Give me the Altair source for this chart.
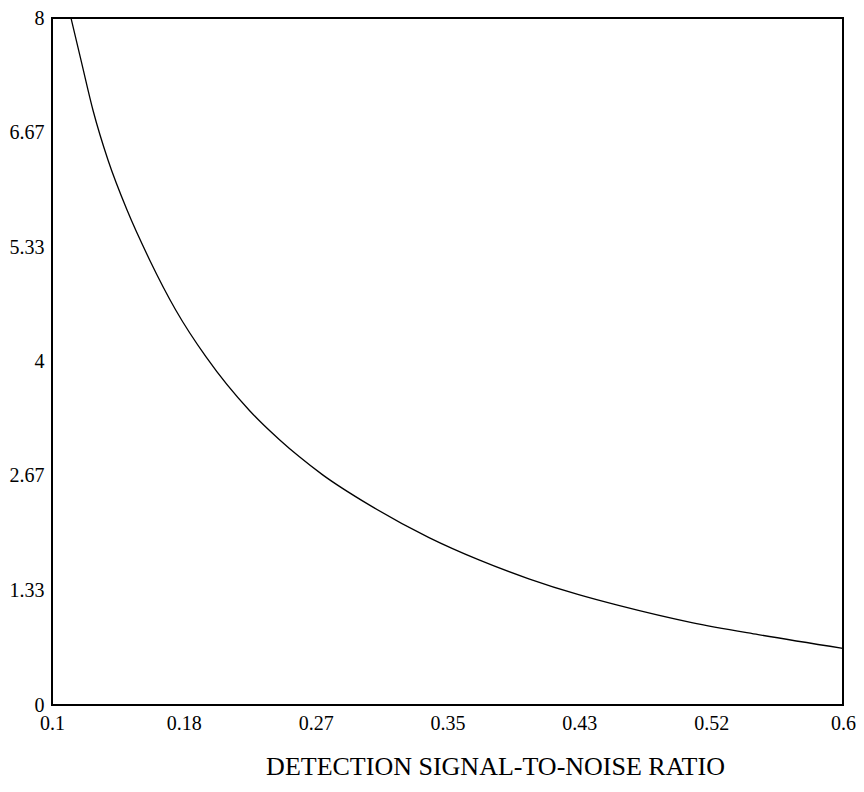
import altair as alt
import pandas as pd

# Curve values
snr = [0.1120, 0.1187, 0.1260, 0.1355, 0.1475, 0.1618, 0.1782, 0.1975, 0.2248,
       0.2311, 0.2438, 0.2564, 0.2711, 0.3005, 0.3383, 0.3699, 0.4014, 0.4329,
       0.4581, 0.5044, 0.5464, 0.6000]
value = [8.00, 7.48, 6.92, 6.34, 5.76, 5.18, 4.60, 4.05, 3.43,
         3.31, 3.09, 2.89, 2.68, 2.33, 1.95, 1.69, 1.47, 1.285,
         1.16, 0.96, 0.82, 0.66]

x_ticks = [0.1, 0.18333, 0.26667, 0.35, 0.43333, 0.51667, 0.6]
y_ticks = [0, 1.33333, 2.66667, 4, 5.33333, 6.66667, 8]

df = pd.DataFrame({"snr": snr, "value": value})

FONT = "Liberation Serif"

chart = alt.Chart(df).mark_line(color="black", strokeWidth=1.3, clip=True,
                                interpolate="monotone").encode(
    x=alt.X("snr:Q",
            scale=alt.Scale(domain=[0.1, 0.6], nice=False, zero=False),
            axis=alt.Axis(values=x_ticks, format=".2~f", title="DETECTION SIGNAL-TO-NOISE RATIO",
                          ticks=False, domain=False, grid=False, labelFlush=False,
                          labelFont=FONT, labelFontSize=20, labelColor="black", labelPadding=8,
                          titleFont=FONT, titleFontSize=26, titleFontWeight="normal",
                          titleColor="black", titleX=443, titleY=61,
                          titleBaseline="middle", titleAlign="center")),
    y=alt.Y("value:Q",
            scale=alt.Scale(domain=[0, 8], nice=False),
            axis=alt.Axis(values=y_ticks, format=".3~r", title=None,
                          ticks=False, domain=False, grid=False, labelFlush=False,
                          labelFont=FONT, labelFontSize=20, labelColor="black", labelPadding=8)),
).properties(
    width=791, height=687,
    autosize=alt.AutoSizeParams(type="none"),
    padding={"left": 44, "top": 10, "right": 13, "bottom": 76},
).configure_view(stroke="black", strokeWidth=2, fill="white")

chart.save("out.html", embed_options={"renderer": "svg", "actions": False})
